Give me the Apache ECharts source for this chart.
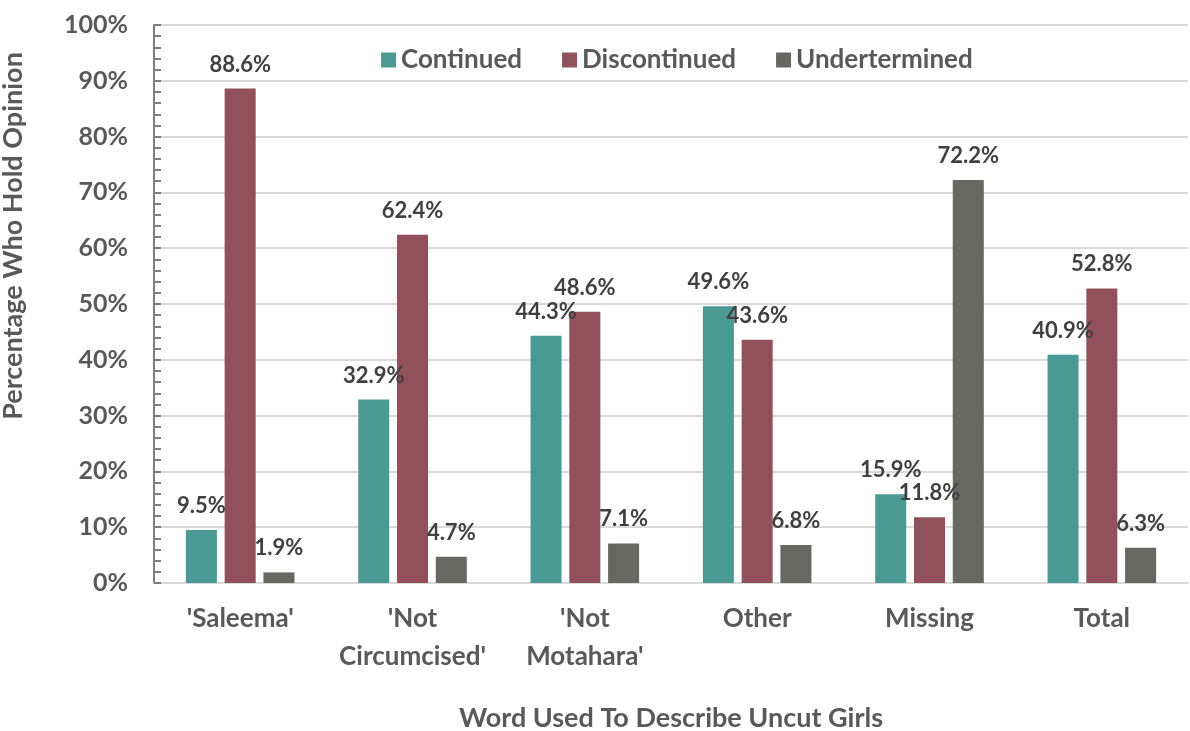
<!DOCTYPE html>
<html>
<head>
<meta charset="utf-8">
<script src="https://cdn.jsdelivr.net/npm/echarts@6/dist/echarts.min.js"></script>
<style>
  html, body { margin: 0; padding: 0; background: #fff; }
  #container { width: 1190px; height: 731px; }
</style>
</head>
<body>
<div id="container"></div>
<script>
const categories = ["'Saleema'", "'Not\nCircumcised'", "'Not\nMotahara'", 'Other', 'Missing', 'Total'];
const continued = [9.5, 32.9, 44.3, 49.6, 15.9, 40.9];
const discontinued = [88.6, 62.4, 48.6, 43.6, 11.8, 52.8];
const undetermined = [1.9, 4.7, 7.1, 6.8, 72.2, 6.3];
const seriesNames = ['Continued', 'Discontinued', 'Undertermined'];

function draw_bars() {
    let dom = document.getElementById("container");
    let myChart = echarts.init(dom);

    const font = 'Lato, "Open Sans", sans-serif';
    const textColor = '#595959';

    let labelStyle = {
        show: true,
        position: 'top',
        distance: 13,
        formatter: function (p) { return p.value.toFixed(1) + '%'; },
        color: '#404040',
        fontFamily: font,
        fontWeight: 'bold',
        fontSize: 22
    };

    function makeSeries(name, data, color) {
        return {
            name: name,
            type: 'bar',
            data: data,
            barGap: '25%',
            barCategoryGap: '37%',
            itemStyle: { color: color },
            label: labelStyle
        };
    }

    let option = {
        textStyle: { fontFamily: font },
        legend: {
            top: 42,
            left: 376,
            itemWidth: 15,
            itemHeight: 15,
            itemGap: 40,
            icon: 'rect',
            data: seriesNames,
            textStyle: {
                color: textColor,
                fontFamily: font,
                fontWeight: 'bold',
                fontSize: 26,
                padding: [0, 0, 0, 0]
            }
        },
        grid: {
            left: 154,
            right: 2,
            top: 25,
            bottom: 148,
            containLabel: false,
            outerBoundsMode: 'none'
        },
        xAxis: {
            type: 'category',
            data: categories,
            name: 'Word Used To Describe Uncut Girls',
            nameLocation: 'middle',
            nameGap: 122,
            nameTextStyle: {
                color: textColor,
                fontWeight: 'bold',
                fontSize: 27,
                fontFamily: font
            },
            axisLine: { lineStyle: { color: '#d9d9d9', width: 2 } },
            axisTick: { show: false },
            axisLabel: {
                interval: 0,
                color: textColor,
                fontWeight: 'bold',
                fontSize: 26,
                lineHeight: 38,
                margin: 17,
                fontFamily: font
            }
        },
        yAxis: {
            type: 'value',
            min: 0,
            max: 100,
            interval: 10,
            axisLine: { show: true, lineStyle: { color: '#7f7f7f', width: 2 } },
            axisTick: { show: true, inside: true, length: 7, lineStyle: { color: '#7f7f7f', width: 2 } },
            minorTick: { show: true, splitNumber: 5, length: 7, lineStyle: { color: '#7f7f7f', width: 2 } },
            splitLine: { lineStyle: { color: '#d9d9d9', width: 2 } },
            axisLabel: {
                formatter: '{value}%',
                color: textColor,
                fontWeight: 'bold',
                fontSize: 25,
                margin: 26,
                fontFamily: font
            }
        },
        graphic: [{
            type: 'text',
            x: 13,
            y: 236,
            rotation: Math.PI / 2,
            style: {
                text: 'Percentage Who Hold Opinion',
                fill: textColor,
                font: 'bold 27px ' + font,
                textAlign: 'center',
                textVerticalAlign: 'middle'
            }
        }],
        series: [
            makeSeries(seriesNames[0], continued, '#4a9a93'),
            makeSeries(seriesNames[1], discontinued, '#92505c'),
            makeSeries(seriesNames[2], undetermined, '#686862')
        ]
    };

    if (option && typeof option === "object") {
        myChart.setOption(option, true);
    }
}
draw_bars();
</script>
</body>
</html>
